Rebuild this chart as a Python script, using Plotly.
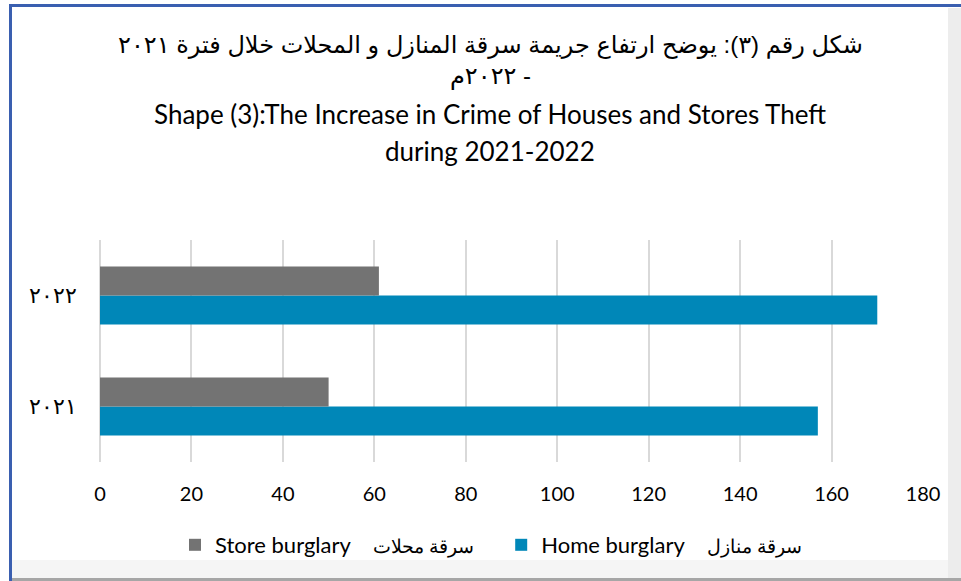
import plotly.graph_objects as go

years = ["٢٠٢١", "٢٠٢٢"]
home_burglary = [157, 170]
store_burglary = [50, 61]
home_name = "Home burglary    <span style='font-size:19px'>سرقة منازل</span>"
store_name = "Store burglary    <span style='font-size:19px'>سرقة محلات</span>\u00a0\u00a0\u00a0\u00a0"
x_ticks = [0, 20, 40, 60, 80, 100, 120, 140, 160, 180]

title_ar_1 = "\u202Bشكل رقم (٣): يوضح ارتفاع جريمة سرقة المنازل و المحلات خلال فترة ٢٠٢١\u202C"
title_ar_2 = "\u202B- ٢٠٢٢م\u202C"
title_en_1 = "Shape (3):The Increase in Crime of Houses and Stores Theft"
title_en_2 = "during 2021-2022"

W, H = 961, 581
L, R, T, B = 100, 38, 240, 119
pw, ph = W - L - R, H - T - B

def px(x):
    return (x - L) / pw

def py(y):
    return (H - B - y) / ph

fig = go.Figure()
fig.add_trace(go.Bar(y=years, x=home_burglary, orientation="h", name=home_name,
                     marker=dict(color="#0087b8", line=dict(width=0))))
fig.add_trace(go.Bar(y=years, x=store_burglary, orientation="h", name=store_name,
                     marker=dict(color="#737373", line=dict(width=0))))

txt_font = "Liberation Sans, DejaVu Sans, sans-serif"
en_font = "Lato, Open Sans, sans-serif"

ann = [
    dict(text=title_ar_1, y=py(45), font=dict(size=24, family=txt_font, color="#000")),
    dict(text=title_ar_2, y=py(76), font=dict(size=24, family=txt_font, color="#000")),
    dict(text=title_en_1, y=py(114), font=dict(size=26, family=en_font, color="#000")),
    dict(text=title_en_2, y=py(151), font=dict(size=26, family=en_font, color="#000")),
]
annotations = []
for a in ann:
    a.update(xref="paper", yref="paper", showarrow=False, xanchor="center", yanchor="middle",
             x=px(490))
    annotations.append(a)

def band(x0, x1, y0, y1, color, layer="above"):
    return dict(type="rect", xref="paper", yref="paper", x0=px(x0), x1=px(x1), y0=py(y0), y1=py(y1),
                fillcolor=color, line=dict(width=0), layer=layer)

shapes = [
    band(948, 961, 8, 578, "rgba(215,215,215,0.45)", "below"),
    band(12, 961, 560, 578, "rgba(235,235,235,0.5)", "below"),
    band(9, 12, 4, 581, "#3a5fb0"),
    band(12, 961, 578, 581, "#a6a6a6"),
]

fig.update_layout(
    width=W, height=H,
    margin=dict(l=L, r=R, t=T, b=B),
    paper_bgcolor="white", plot_bgcolor="white",
    barmode="group", bargap=0.477, bargroupgap=0,
    showlegend=True,
    legend=dict(orientation="h", x=px(491), xanchor="center", y=py(545), yanchor="middle",
                traceorder="reversed", font=dict(size=22, family=en_font, color="#000"),
                itemwidth=30, bgcolor="rgba(0,0,0,0)"),
    xaxis=dict(range=[0, 180], tickvals=x_ticks, showgrid=True, gridcolor="#d9d9d9", gridwidth=1.5,
               zeroline=True, zerolinecolor="#d9d9d9", zerolinewidth=1.5, showline=False,
               tickfont=dict(size=20, family=en_font, color="#000"), ticks="",
               ticklabelstandoff=18),
    yaxis=dict(showgrid=False, showline=False, ticks="",
               tickfont=dict(size=22, family="DejaVu Serif, Liberation Serif, serif", color="#000"),
               ticklabelstandoff=22),
    annotations=annotations,
    shapes=shapes,
)

post = (
    "document.body.style.margin='0';document.body.style.overflow='hidden';"
    "var d=document.createElement('div');"
    "d.style.cssText='position:absolute;left:9px;top:4px;width:952px;height:3px;"
    "background:#3a5fb0;z-index:10;pointer-events:none;';"
    "document.body.appendChild(d);"
)
fig.write_html("out.html", config={"displayModeBar": False}, post_script=post)
